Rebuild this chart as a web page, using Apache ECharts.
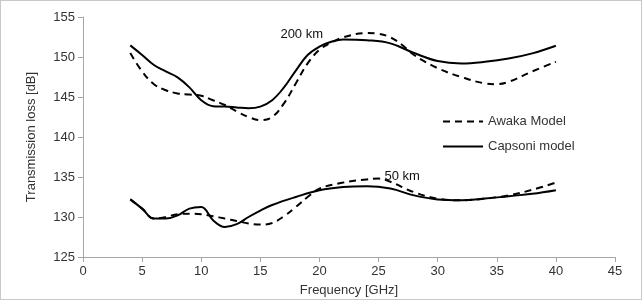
<!DOCTYPE html>
<html>
<head>
<meta charset="utf-8">
<script src="https://cdn.jsdelivr.net/npm/echarts@6/dist/echarts.min.js"></script>
<style>
  html, body { margin: 0; padding: 0; background: #fff; }
  #chart { width: 642px; height: 300px; box-sizing: border-box; border: 1px solid #c8c8c8; }
</style>
</head>
<body>
<div id="chart"></div>
<script>
// frequencies (GHz) and transmission loss (dB)
const freqCap200 = [4, 5, 6, 7, 8, 9, 10, 11, 12, 13, 14, 15, 16, 17, 18, 19, 20, 21, 22, 24, 26, 28, 30, 32, 34, 36, 38, 40]
const capsoni200 = [151.45, 150.25, 149.0, 148.2, 147.45, 146.2, 144.6, 143.85, 143.8, 143.7, 143.6, 143.8, 144.6, 146.2, 148.3, 150.25, 151.3, 151.9, 152.2, 152.1, 151.7, 150.5, 149.5, 149.2, 149.4, 149.8, 150.45, 151.4]

const freqAw200 = [4, 5, 6, 7, 8, 9, 10, 11, 12, 13, 14, 15, 16, 17, 18, 19, 20, 21, 22, 24, 25, 26, 27, 28, 30, 32, 34, 35, 36, 38, 40]
const awaka200 = [150.5, 148.2, 146.6, 145.85, 145.45, 145.3, 145.15, 144.6, 144.0, 143.2, 142.5, 142.1, 142.5, 144.2, 146.7, 149.2, 150.9, 151.8, 152.45, 153.0, 152.9, 152.45, 151.5, 150.25, 148.6, 147.5, 146.7, 146.6, 146.9, 148.2, 149.4]

const freqCap50 = [4, 5, 6, 7, 8, 9, 10, 11, 12, 13, 14, 15, 16, 18, 20, 22, 24, 26, 28, 30, 32, 34, 36, 38, 40]
const capsoni50 = [132.2, 131.05, 129.8, 129.8, 130.2, 131.05, 131.25, 129.6, 128.75, 129.1, 130.0, 130.8, 131.5, 132.5, 133.35, 133.75, 133.85, 133.55, 132.7, 132.2, 132.1, 132.3, 132.6, 132.9, 133.35]

const freqAw50 = [4, 5, 6, 7, 8, 9, 10, 11, 12, 13, 14, 15, 16, 17, 18, 19, 20, 22, 24, 25, 26, 28, 30, 32, 34, 36, 38, 40]
const awaka50 = [132.2, 131.05, 129.8, 130.0, 130.35, 130.4, 130.35, 130.1, 129.8, 129.5, 129.2, 129.05, 129.25, 130.1, 131.25, 132.5, 133.55, 134.3, 134.7, 134.8, 134.4, 133.1, 132.3, 132.1, 132.3, 132.7, 133.4, 134.3]

const pairs = (xs, ys) => xs.map((x, i) => [x, ys[i]])

const FONT = '"Liberation Sans", Arial, sans-serif'
const axisGray = '#a6a6a6'
const textGray = '#333'
const DASH = [7, 5]

const chart = echarts.init(document.getElementById('chart'), null, { renderer: 'canvas' })

const lineBase = {
  type: 'line',
  smooth: 0.4,
  symbol: 'none',
  color: '#000',
}

// invisible anchor so the curve labels sit at a data position
const curveLabel = (x, y, text) => ({
  symbol: 'rect',
  symbolSize: 1,
  itemStyle: { color: 'rgba(0,0,0,0)' },
  silent: true,
  data: [{ coord: [x, y] }],
  label: { show: true, position: 'inside', formatter: text, color: '#111', fontFamily: FONT, fontSize: 13 }
})

chart.setOption({
  animation: false,
  textStyle: { fontFamily: FONT },
  grid: { left: 82, right: 26, top: 16, bottom: 42, outerBoundsMode: 'none', containLabel: false },
  legend: {
    data: ['Awaka Model', 'Capsoni model'],
    orient: 'vertical',
    left: 436,
    top: 109,
    itemWidth: 40,
    itemHeight: 10,
    itemGap: 12,
    itemStyle: { opacity: 0 },
    textStyle: { fontFamily: FONT, fontSize: 13, color: textGray }
  },
  xAxis: {
    type: 'value',
    min: 0,
    max: 45,
    interval: 5,
    name: 'Frequency [GHz]',
    nameLocation: 'middle',
    nameGap: 27,
    nameTextStyle: { fontFamily: FONT, fontSize: 13, color: textGray },
    axisLine: { lineStyle: { color: axisGray } },
    axisTick: { show: true, length: 5, lineStyle: { color: axisGray } },
    axisLabel: { fontFamily: FONT, fontSize: 13, color: textGray, margin: 8 },
    splitLine: { show: false }
  },
  yAxis: {
    type: 'value',
    min: 125,
    max: 155,
    interval: 5,
    name: 'Transmission loss [dB]',
    nameLocation: 'middle',
    nameGap: 45,
    nameTextStyle: { fontFamily: FONT, fontSize: 13, color: textGray },
    axisLine: { show: true, lineStyle: { color: axisGray } },
    axisTick: { show: true, length: 5, lineStyle: { color: axisGray } },
    axisLabel: { fontFamily: FONT, fontSize: 13, color: textGray, margin: 8 },
    splitLine: { show: false }
  },
  series: [
    {
      ...lineBase,
      name: 'Awaka Model',
      data: pairs(freqAw200, awaka200),
      lineStyle: { color: '#000', width: 2, type: DASH },
      markPoint: curveLabel(18.5, 152.8, '200 km')
    },
    {
      ...lineBase,
      name: 'Capsoni model',
      data: pairs(freqCap200, capsoni200),
      lineStyle: { color: '#000', width: 2, type: 'solid' }
    },
    {
      ...lineBase,
      name: 'Awaka Model',
      data: pairs(freqAw50, awaka50),
      lineStyle: { color: '#000', width: 2, type: DASH },
      markPoint: curveLabel(27, 135.1, '50 km')
    },
    {
      ...lineBase,
      name: 'Capsoni model',
      data: pairs(freqCap50, capsoni50),
      lineStyle: { color: '#000', width: 2, type: 'solid' }
    }
  ]
})
</script>
</body>
</html>
